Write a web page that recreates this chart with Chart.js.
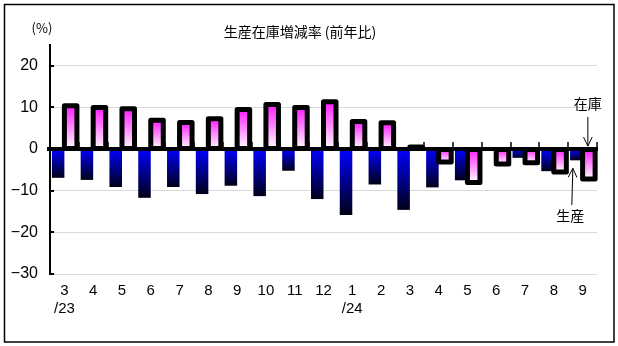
<!DOCTYPE html>
<html>
<head>
<meta charset="utf-8">
<title>生産在庫増減率</title>
<script src="https://cdn.jsdelivr.net/npm/chart.js@4/dist/chart.umd.min.js"></script>
<style>
  html, body { margin: 0; padding: 0; background: #fff; }
  #wrap { position: relative; width: 618px; height: 346px; }
</style>
</head>
<body>
<div id="wrap"><canvas id="stockChart" width="618" height="346"></canvas></div>
<script>
// Month labels, second line marks the year
const months = [['3', '/23'], '4', '5', '6', '7', '8', '9', '10', '11', '12',
                ['1', '/24'], '2', '3', '4', '5', '6', '7', '8', '9'];

// Year-on-year change (%)
const production = [-6.9, -7.4, -9.1, -11.7, -9.1, -10.8, -8.8, -11.3, -5.2, -12.0,
                    -15.8, -8.5, -14.6, -9.2, -7.5, -0.3, -2.1, -5.3, -2.7];
const inventory  = [10.4, 10.0, 9.7, 6.9, 6.4, 7.3, 9.5, 10.7, 10.0, 11.4,
                    6.6, 6.3, 0.5, -3.1, -8.0, -3.6, -3.3, -5.5, -7.2];

const yTicks = [20, 10, 0, -10, -20, -30];

const numFont = "'Liberation Sans', sans-serif";
const jpFont = "'Noto Sans CJK JP', sans-serif";

// Top-to-bottom gradient spanning one bar
function barGradient(context, topColor, bottomColor) {
    const chart = context.chart;
    const y = chart.scales.y;
    if (!y || context.raw == null) return topColor;
    const p0 = y.getPixelForValue(0);
    const p1 = y.getPixelForValue(context.raw);
    const top = Math.min(p0, p1);
    const bottom = Math.max(p0, p1);
    if (!isFinite(top) || !isFinite(bottom) || bottom - top < 1) return topColor;
    const g = chart.ctx.createLinearGradient(0, top, 0, bottom);
    g.addColorStop(0, topColor);
    g.addColorStop(1, bottomColor);
    return g;
}

function arrow(ctx, x1, y1, x2, y2) {
    // line from (x1,y1) with an open head at (x2,y2)
    const a = Math.atan2(y2 - y1, x2 - x1);
    const len = 10, spread = 0.45;
    ctx.beginPath();
    ctx.moveTo(x1, y1);
    ctx.lineTo(x2, y2);
    ctx.moveTo(x2 - len * Math.cos(a - spread), y2 - len * Math.sin(a - spread));
    ctx.lineTo(x2, y2);
    ctx.lineTo(x2 - len * Math.cos(a + spread), y2 - len * Math.sin(a + spread));
    ctx.stroke();
}

const decorations = {
    id: 'decorations',
    beforeDraw(chart) {
        const ctx = chart.ctx;
        ctx.save();
        ctx.fillStyle = '#fff';
        ctx.fillRect(0, 0, chart.width, chart.height);
        ctx.restore();
    },
    afterDatasetsDraw(chart) {
        const { ctx, chartArea, scales: { y } } = chart;
        const zero = y.getPixelForValue(0);
        ctx.save();
        ctx.strokeStyle = '#000';

        // inventory bars get a heavy outline centred on their edges
        ctx.lineWidth = 5;
        ctx.lineJoin = 'round';
        chart.getDatasetMeta(1).data.forEach(bar => {
            const top = Math.min(bar.y, bar.base);
            const h = Math.abs(bar.base - bar.y);
            ctx.strokeRect(bar.x - bar.width / 2, top, bar.width, h);
        });

        // zero line
        ctx.lineWidth = 4;
        ctx.beginPath();
        ctx.moveTo(chartArea.left - 3, zero);
        ctx.lineTo(chartArea.right + 1, zero);
        ctx.stroke();

        // category ticks sitting on the zero line
        ctx.lineWidth = 1.5;
        const step = (chartArea.right - chartArea.left) / months.length;
        for (let i = 1; i <= months.length; i++) {
            const x = Math.round(chartArea.left + i * step);
            ctx.beginPath();
            ctx.moveTo(x, zero - 7);
            ctx.lineTo(x, zero);
            ctx.stroke();
        }

        // value ticks pointing into the plot
        ctx.lineWidth = 2;
        yTicks.forEach(v => {
            const py = Math.round(y.getPixelForValue(v));
            ctx.beginPath();
            ctx.moveTo(chartArea.left, py);
            ctx.lineTo(chartArea.left + 4, py);
            ctx.stroke();
        });
        ctx.restore();
    },
    afterDraw(chart) {
        const ctx = chart.ctx;
        ctx.save();
        ctx.fillStyle = '#000';
        ctx.strokeStyle = '#000';
        ctx.textAlign = 'center';
        ctx.textBaseline = 'middle';

        ctx.font = '14px ' + jpFont;
        ctx.fillText('生産在庫増減率 (前年比)', 300, 32);
        ctx.font = '13px ' + jpFont;
        ctx.fillText('(%)', 42, 28);

        // labels pointing at the latest month
        const last = months.length - 1;
        const invBar = chart.getDatasetMeta(1).data[last];
        const prodBar = chart.getDatasetMeta(0).data[last];
        const zero = chart.scales.y.getPixelForValue(0);

        ctx.font = '14px ' + jpFont;
        ctx.fillText('在庫', invBar.x - 1, 104);
        ctx.fillText('生産', prodBar.x - 6, 216);

        ctx.lineWidth = 1;
        arrow(ctx, invBar.x - 1, 117, invBar.x - 1, zero - 3);
        arrow(ctx, prodBar.x - 4.5, 205, prodBar.x - 3.5, prodBar.y + 8);

        // outer frame
        ctx.lineWidth = 1.5;
        ctx.strokeRect(4.5, 4.5, 609.5, 337.5);
        ctx.restore();
    }
};

const ctx = document.getElementById('stockChart').getContext('2d');
const stockChart = new Chart(ctx, {
    type: 'bar',
    data: {
        labels: months,
        datasets: [{
            label: '生産',
            data: production,
            backgroundColor: c => barGradient(c, '#0000ff', '#000018'),
            borderWidth: 0,
            categoryPercentage: 0.87,
            barPercentage: 1.0
        }, {
            label: '在庫',
            data: inventory,
            backgroundColor: c => barGradient(c, '#ff1aff', '#ffffff'),
            borderWidth: 0,
            categoryPercentage: 0.87,
            barPercentage: 1.0
        }]
    },
    options: {
        responsive: false,
        animation: false,
        devicePixelRatio: 1,
        layout: {
            padding: { top: 45, right: 21, left: 0, bottom: 0 }
        },
        scales: {
            x: {
                afterFit: scale => { scale.height = 72; },
                grid: { display: false, drawTicks: false },
                border: { display: false },
                ticks: {
                    autoSkip: false,
                    maxRotation: 0,
                    padding: 8,
                    color: '#000',
                    font: { family: numFont, size: 15 }
                }
            },
            y: {
                min: -30,
                max: 25,
                afterFit: scale => { scale.width = 50; },
                grid: { color: '#d9d9d9', lineWidth: 1, drawTicks: false },
                border: { color: '#000', width: 2 },
                ticks: {
                    stepSize: 5,
                    padding: 12,
                    color: '#000',
                    font: { family: numFont, size: 16 },
                    callback: function(value) {
                        if (value % 10 !== 0) return '';
                        return value < 0 ? '\u2212' + Math.abs(value) : String(value);
                    }
                }
            }
        },
        plugins: {
            legend: { display: false },
            tooltip: { enabled: false }
        }
    },
    plugins: [decorations]
});
</script>
</body>
</html>
